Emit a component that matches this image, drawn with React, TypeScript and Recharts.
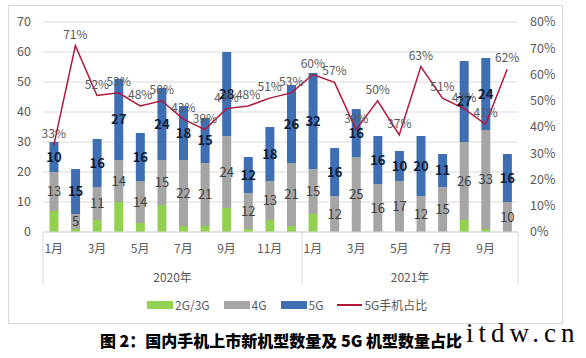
import React from 'react';
import {
  ComposedChart, Bar, Line, XAxis, YAxis, CartesianGrid, LabelList,
} from 'recharts';

const MONTHS = [
  '1月', '2月', '3月', '4月', '5月', '6月', '7月', '8月', '9月', '10月', '11月', '12月',
  '1月', '2月', '3月', '4月', '5月', '6月', '7月', '8月', '9月', '10月',
];
const YEARS = [
  '2020年', '2020年', '2020年', '2020年', '2020年', '2020年', '2020年', '2020年', '2020年', '2020年', '2020年', '2020年',
  '2021年', '2021年', '2021年', '2021年', '2021年', '2021年', '2021年', '2021年', '2021年', '2021年',
];
const G23 = [7, 1, 4, 10, 3, 9, 2, 2, 8, 1, 4, 2, 6, 0, 0, 0, 0, 0, 0, 4, 1, 0];
const G4 = [13, 5, 11, 14, 14, 15, 22, 21, 24, 12, 13, 21, 15, 12, 25, 16, 17, 12, 15, 26, 33, 10];
const G5 = [10, 15, 16, 27, 16, 24, 18, 15, 28, 12, 18, 26, 32, 16, 16, 16, 10, 20, 11, 27, 24, 16];
const SHARE = [33, 71, 52, 53, 48, 50, 43, 39, 47, 48, 51, 53, 60, 57, 39, 50, 37, 63, 51, 47, 41, 62];

const LEFT_TICKS = [0, 10, 20, 30, 40, 50, 60, 70];
const RIGHT_TICKS = [0, 10, 20, 30, 40, 50, 60, 70, 80];

const FONT = '"Noto Sans CJK SC", "Microsoft YaHei", sans-serif';
const C_GREEN = '#92D050';
const C_GRAY = '#A5A5A5';
const C_BLUE = '#3F6FB3';
const C_LINE = '#B3173A';
const C_TEXT = '#595959';
const C_GRID = '#D9D9D9';

const data = MONTHS.map((m, i) => ({
  month: m,
  year: YEARS[i],
  g23: G23[i],
  g4: G4[i],
  g5: G5[i],
  share: SHARE[i],
}));

// group spans for the second-level (year) axis
const groups: { start: number; end: number; label: string }[] = [];
YEARS.forEach((y, i) => {
  const last = groups[groups.length - 1];
  if (last && last.label === y) last.end = i;
  else groups.push({ start: i, end: i, label: y });
});

const YearTick = (props: any) => {
  const { x, y, payload } = props;
  const i = payload?.index ?? props.index;
  const off = payload?.offset ?? 10.8;
  const out: React.ReactNode[] = [];
  groups.forEach((g, gi) => {
    if (i === g.start) {
      out.push(<line key={'s' + gi} x1={x - off} x2={x - off} y1={y - 32} y2={y + 21} stroke={C_GRID} />);
    }
    if (i === g.end && gi === groups.length - 1) {
      out.push(<line key={'e' + gi} x1={x + off} x2={x + off} y1={y - 32} y2={y + 21} stroke={C_GRID} />);
    }
    const mid = (g.start + g.end) / 2;
    if (i === Math.floor(mid)) {
      const dx = (mid - Math.floor(mid)) * 2 * off;
      out.push(
        <text key={'t' + gi} x={x + dx} y={y + 12} textAnchor="middle" dominantBaseline="central"
          fill={C_TEXT} fontSize={12} fontFamily={FONT}>
          {g.label}
        </text>
      );
    }
  });
  return <g>{out}</g>;
};

const LegendItem = ({ color, label, line }: { color: string; label: string; line?: boolean }) => (
  <div style={{ display: 'flex', alignItems: 'center', gap: 2 }}>
    {line
      ? <div style={{ width: 25, height: 1.5, background: color }} />
      : <div style={{ width: 26, height: 8, background: color }} />}
    <span>{label}</span>
  </div>
);

export default function App() {
  return (
    <div style={{ position: 'absolute', left: 0, top: 0, width: 586, height: 358, background: '#fff', overflow: 'hidden', fontFamily: FONT }}>
      <div style={{ position: 'absolute', left: 8, top: 5, width: 555, height: 319, border: `1px solid ${C_GRID}`, boxSizing: 'border-box' }} />
      <div style={{ position: 'absolute', left: 8, top: 5 }}>
        <ComposedChart width={554} height={318} data={data} margin={{ top: 17, right: 0, bottom: 0, left: 0 }} barCategoryGap="30%">
          <CartesianGrid vertical={false} stroke={C_GRID} yAxisId="l" xAxisId="m" />
          <XAxis xAxisId="m" dataKey="month" interval={1} tickLine={false} axisLine={{ stroke: C_GRID }}
            tick={{ fill: C_TEXT, fontSize: 12, fontFamily: FONT }} tickMargin={6} height={24} />
          <XAxis xAxisId="y" dataKey="year" interval={0} tickLine={false} axisLine={false}
            tick={<YearTick />} height={67} />
          <YAxis yAxisId="l" domain={[0, 70]} ticks={LEFT_TICKS} width={35} axisLine={false} tickLine={false}
            tick={{ fill: C_TEXT, fontSize: 12.5, fontFamily: FONT }} tickMargin={6} />
          <YAxis yAxisId="r" orientation="right" domain={[0, 80]} ticks={RIGHT_TICKS} width={44} axisLine={false} tickLine={false}
            tickFormatter={(v) => `${v}%`} tick={{ fill: C_TEXT, fontSize: 12.5, fontFamily: FONT }} tickMargin={6} />
          <Bar dataKey="g23" name="2G/3G" stackId="a" xAxisId="m" yAxisId="l" fill={C_GREEN} isAnimationActive={false} />
          <Bar dataKey="g4" name="4G" stackId="a" xAxisId="m" yAxisId="l" fill={C_GRAY} isAnimationActive={false}>
            <LabelList dataKey="g4" position="center" fill="#404040" fontSize={13} fontFamily={FONT} />
          </Bar>
          <Bar dataKey="g5" name="5G" stackId="a" xAxisId="m" yAxisId="l" fill={C_BLUE} isAnimationActive={false}>
            <LabelList dataKey="g5" position="center" fill="#0E1B36" fontSize={13} fontWeight="bold" fontFamily={FONT} />
          </Bar>
          <Line dataKey="share" name="5G手机占比" type="linear" xAxisId="m" yAxisId="r" stroke={C_LINE} strokeWidth={1.5}
            dot={false} isAnimationActive={false}>
            <LabelList dataKey="share" position="top" offset={7} formatter={(v: any) => `${v}%`}
              fill={C_TEXT} fontSize={12} fontFamily={FONT} />
          </Line>
        </ComposedChart>
      </div>
      <div style={{ position: 'absolute', left: 147, top: 297, display: 'flex', gap: 14, fontSize: 12, color: C_TEXT, lineHeight: '16px' }}>
        <LegendItem color={C_GREEN} label="2G/3G" />
        <LegendItem color={C_GRAY} label="4G" />
        <LegendItem color={C_BLUE} label="5G" />
        <LegendItem color={C_LINE} label="5G手机占比" line />
      </div>
      <div style={{ position: 'absolute', left: 0, width: 562, top: 330, textAlign: 'center', fontSize: 16, fontWeight: 900, color: '#000', lineHeight: '20px' }}>
        图 2：国内手机上市新机型数量及 5G 机型数量占比
      </div>
      <div style={{ position: 'absolute', left: 466, top: 318, fontFamily: '"Liberation Serif", serif', fontSize: 27, letterSpacing: 5, color: '#000', whiteSpace: 'nowrap' }}>
        itdw.cn
      </div>
    </div>
  );
}
